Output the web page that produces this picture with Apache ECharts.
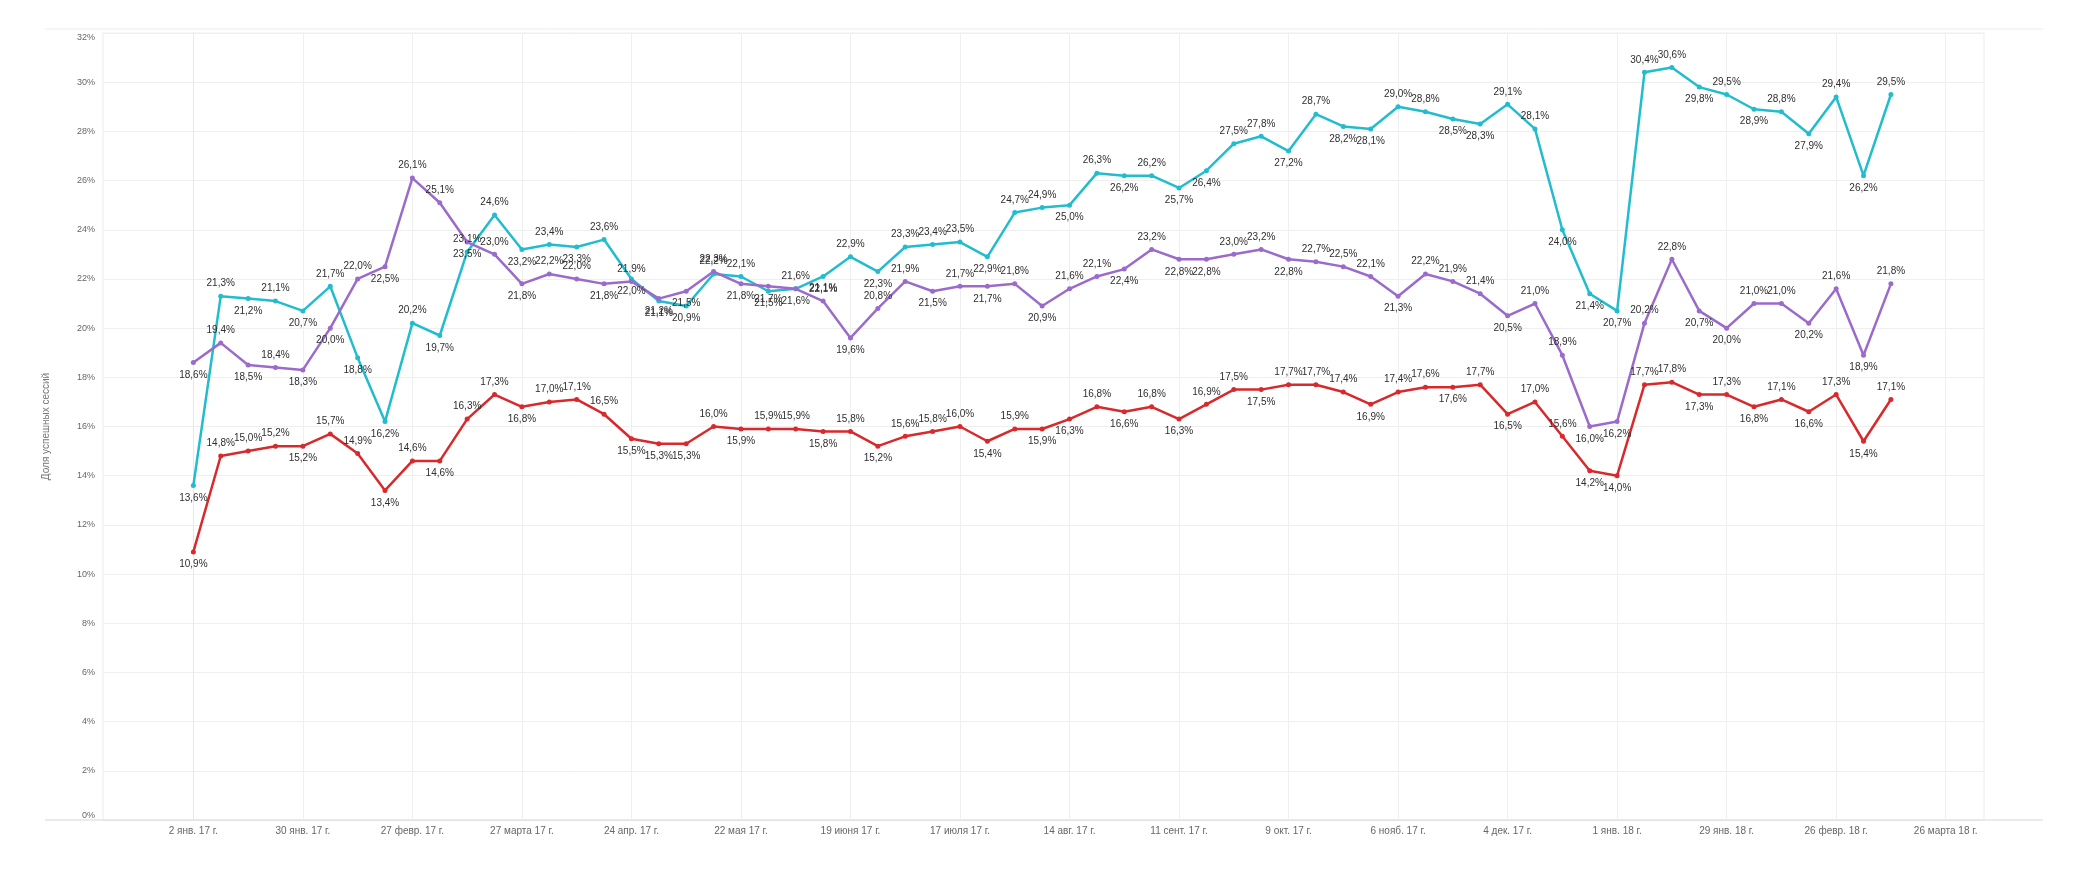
<!DOCTYPE html>
<html>
<head>
<meta charset="utf-8">
<script src="https://cdn.jsdelivr.net/npm/echarts@6/dist/echarts.min.js"></script>
<style>
  html, body { margin: 0; padding: 0; background: #fff; }
  #chart { width: 2092px; height: 878px; }
</style>
</head>
<body>
<div id="chart"></div>
<script>
// Week index 0 = 2 янв. 17 г.; one point per week
const tickWeeks = [0, 4, 8, 12, 16, 20, 24, 28, 32, 36, 40, 44, 48, 52, 56, 60, 64];
const tickLabels = ['2 янв. 17 г.', '30 янв. 17 г.', '27 февр. 17 г.', '27 марта 17 г.', '24 апр. 17 г.',
  '22 мая 17 г.', '19 июня 17 г.', '17 июля 17 г.', '14 авг. 17 г.', '11 сент. 17 г.', '9 окт. 17 г.',
  '6 нояб. 17 г.', '4 дек. 17 г.', '1 янв. 18 г.', '29 янв. 18 г.', '26 февр. 18 г.', '26 марта 18 г.'];

const cyanValues = [13.6, 21.3, 21.2, 21.1, 20.7, 21.7, 18.8, 16.2, 20.2, 19.7,
  23.1, 24.6, 23.2, 23.4, 23.3, 23.6, 22.0, 21.1, 20.9, 22.2,
  22.1, 21.5, 21.6, 22.1, 22.9, 22.3, 23.3, 23.4, 23.5, 22.9,
  24.7, 24.9, 25.0, 26.3, 26.2, 26.2, 25.7, 26.4, 27.5, 27.8,
  27.2, 28.7, 28.2, 28.1, 29.0, 28.8, 28.5, 28.3, 29.1, 28.1,
  24.0, 21.4, 20.7, 30.4, 30.6, 29.8, 29.5, 28.9, 28.8, 27.9,
  29.4, 26.2, 29.5];

const purpleValues = [18.6, 19.4, 18.5, 18.4, 18.3, 20.0, 22.0, 22.5, 26.1, 25.1,
  23.5, 23.0, 21.8, 22.2, 22.0, 21.8, 21.9, 21.2, 21.5, 22.3,
  21.8, 21.7, 21.6, 21.1, 19.6, 20.8, 21.9, 21.5, 21.7, 21.7,
  21.8, 20.9, 21.6, 22.1, 22.4, 23.2, 22.8, 22.8, 23.0, 23.2,
  22.8, 22.7, 22.5, 22.1, 21.3, 22.2, 21.9, 21.4, 20.5, 21.0,
  18.9, 16.0, 16.2, 20.2, 22.8, 20.7, 20.0, 21.0, 21.0, 20.2,
  21.6, 18.9, 21.8];

const redValues = [10.9, 14.8, 15.0, 15.2, 15.2, 15.7, 14.9, 13.4, 14.6, 14.6,
  16.3, 17.3, 16.8, 17.0, 17.1, 16.5, 15.5, 15.3, 15.3, 16.0,
  15.9, 15.9, 15.9, 15.8, 15.8, 15.2, 15.6, 15.8, 16.0, 15.4,
  15.9, 15.9, 16.3, 16.8, 16.6, 16.8, 16.3, 16.9, 17.5, 17.5,
  17.7, 17.7, 17.4, 16.9, 17.4, 17.6, 17.6, 17.7, 16.5, 17.0,
  15.6, 14.2, 14.0, 17.7, 17.8, 17.3, 17.3, 16.8, 17.1, 16.6,
  17.3, 15.4, 17.1];

const yTicks = { min: 0, max: 32, step: 2 };
const yAxisTitle = 'Доля успешных сессий';

function fmt(v) { return v.toFixed(1).replace('.', ',') + '%'; }

function buildData(values) {
  return values.map(function (v, i) {
    const prev = i > 0 ? values[i - 1] : values[i + 1];
    const next = i < values.length - 1 ? values[i + 1] : values[i - 1];
    const below = v < (prev + next) / 2;
    return { value: [i, v], label: { position: below ? 'bottom' : 'top' } };
  });
}

function makeSeries(name, values, color) {
  return {
    name: name,
    type: 'line',
    data: buildData(values),
    symbol: 'circle',
    symbolSize: 5,
    showSymbol: true,
    lineStyle: { color: color, width: 2.5 },
    itemStyle: { color: color },
    label: {
      show: true,
      formatter: function (p) { return fmt(p.value[1]); },
      color: '#2e2e2e',
      fontSize: 10,
      fontFamily: 'Liberation Sans, Arial, sans-serif',
      distance: 5
    },
    emphasis: { disabled: true },
    animation: false,
    z: 3
  };
}

const chart = echarts.init(document.getElementById('chart'), null, { renderer: 'canvas' });

const option = {
  backgroundColor: '#ffffff',
  animation: false,
  textStyle: { fontFamily: 'Liberation Sans, Arial, sans-serif' },
  grid: {
    left: 103, right: 108, top: 33, bottom: 58,
    show: true, borderColor: '#ececec', borderWidth: 1
  },
  graphic: [
    { type: 'line', shape: { x1: 45, y1: 29, x2: 2043, y2: 29 }, style: { stroke: '#ececec', lineWidth: 1 }, silent: true },
    { type: 'line', shape: { x1: 45, y1: 820, x2: 2043, y2: 820 }, style: { stroke: '#e4e4e4', lineWidth: 1.5 }, silent: true }
  ],
  xAxis: {
    type: 'value',
    min: -3.3,
    max: 65.4,
    axisLine: { show: true, lineStyle: { color: '#e4e4e4' } },
    axisTick: { show: false, customValues: tickWeeks },
    axisLabel: {
      customValues: tickWeeks,
      formatter: function (v) { return tickLabels[tickWeeks.indexOf(v)]; },
      color: '#666',
      fontSize: 10,
      margin: 6
    },
    splitLine: { show: true, lineStyle: { color: '#efefef', width: 1 } }
  },
  yAxis: {
    type: 'value',
    min: yTicks.min,
    max: yTicks.max,
    interval: yTicks.step,
    name: yAxisTitle,
    nameLocation: 'middle',
    nameGap: 52,
    nameTextStyle: { color: '#777', fontSize: 10 },
    axisLine: { show: true, lineStyle: { color: '#e8e8e8' } },
    axisTick: { show: false },
    axisLabel: {
      formatter: '{value}%', color: '#666', fontSize: 9, margin: 8,
      verticalAlignMinLabel: 'bottom', verticalAlignMaxLabel: 'top'
    },
    splitLine: { show: true, lineStyle: { color: '#efefef', width: 1 } }
  },
  series: [
    makeSeries('Серия 1', cyanValues, '#22bccf'),
    makeSeries('Серия 2', purpleValues, '#9b6bcb'),
    makeSeries('Серия 3', redValues, '#d8292c')
  ]
};

chart.setOption(option);
</script>
</body>
</html>
